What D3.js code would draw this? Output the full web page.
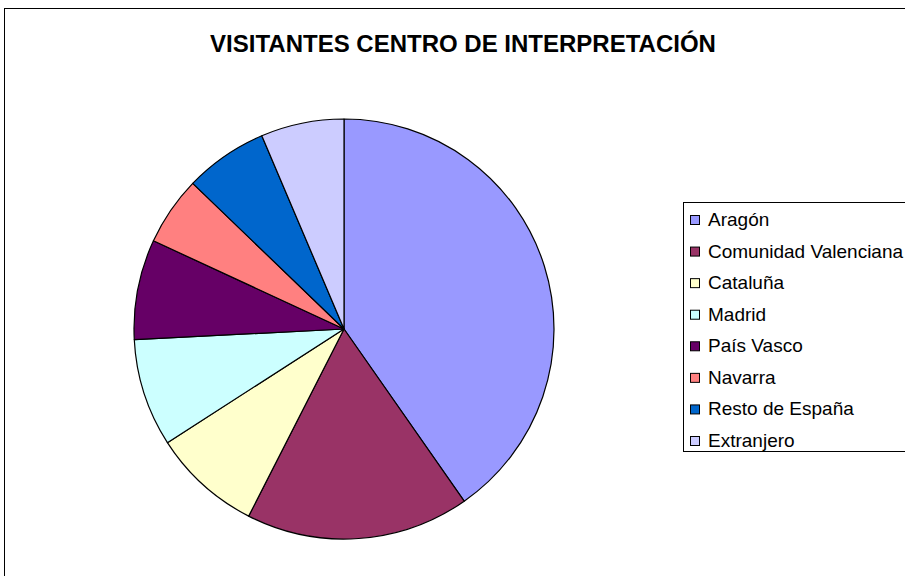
<!DOCTYPE html>
<html>
<head>
<meta charset="utf-8">
<script src="https://cdn.jsdelivr.net/npm/d3@7"></script>
<style>
html,body{margin:0;padding:0;background:#fff;}
svg{display:block;}
</style>
</head>
<body>
<svg id="chart" width="905" height="576"></svg>
<script>
const title = "VISITANTES CENTRO DE INTERPRETACIÓN";
const categories = ["Aragón","Comunidad Valenciana","Cataluña","Madrid","País Vasco","Navarra","Resto de España","Extranjero"];
const values = [40.3, 17.2, 8.4, 8.3, 7.7, 5.3, 6.4, 6.4];
const colors = ["#9999FF","#993366","#FFFFCC","#CCFFFF","#660066","#FF8080","#0066CC","#CCCCFF"];

const svg = d3.select("#chart");
const font = "Arial, 'Liberation Sans', sans-serif";

// outer frame (extends beyond the right and bottom edges)
svg.append("rect").attr("x",4.5).attr("y",8.5).attr("width",960).attr("height",640)
  .attr("fill","#fff").attr("stroke","#000").attr("stroke-width",1);

svg.append("text").attr("x",463).attr("y",52).attr("text-anchor","middle")
  .attr("font-family",font).attr("font-weight","bold").attr("font-size",24)
  .text(title);

const cx = 344, cy = 329, r = 210;
const pie = d3.pie().sort(null).value(d=>d)(values);
const arc = d3.arc().innerRadius(0).outerRadius(r);
const color = d3.scaleOrdinal().domain(categories).range(colors);

svg.append("g").attr("transform",`translate(${cx},${cy})`)
  .selectAll("path").data(pie).join("path")
  .attr("d",arc)
  .attr("fill",(d,i)=>color(categories[i]))
  .attr("stroke","#000").attr("stroke-width",1.2).attr("stroke-linejoin","round");

// legend
const lg = svg.append("g");
lg.append("rect").attr("x",683.5).attr("y",202.5).attr("width",300).attr("height",249)
  .attr("fill","#fff").attr("stroke","#000").attr("stroke-width",1);
const ly = d3.scalePoint().domain(categories).range([220,441]);
const items = lg.selectAll("g.item").data(categories).join("g")
  .attr("transform",d=>`translate(0,${ly(d)})`);
items.append("rect").attr("x",690.5).attr("y",-4.5).attr("width",9).attr("height",9)
  .attr("fill",d=>color(d)).attr("stroke","#000").attr("stroke-width",1);
items.append("text").attr("x",708).attr("y",6)
  .attr("font-family",font).attr("font-size",19).attr("fill","#000")
  .text(d=>d);
</script>
</body>
</html>
